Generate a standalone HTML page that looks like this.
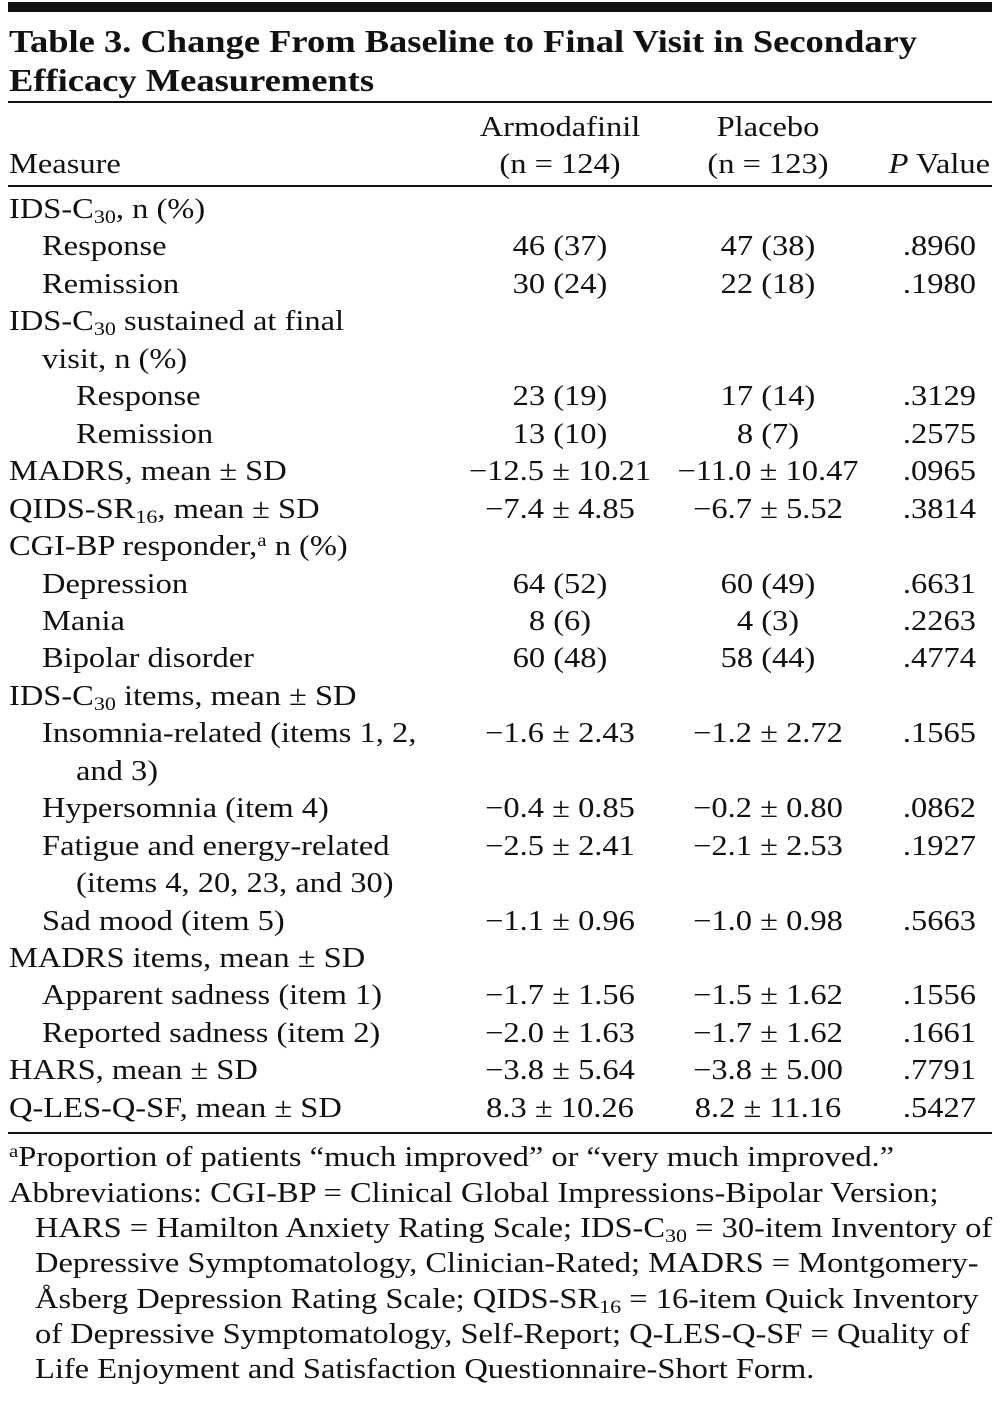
<!DOCTYPE html>
<html><head><meta charset="utf-8">
<style>
html,body{margin:0;padding:0;background:#fff;}
body{width:1004px;height:1403px;position:relative;overflow:hidden;font-family:"Liberation Serif",serif;color:#111;}
.t{position:absolute;white-space:nowrap;font-size:28px;line-height:38px;height:38px;transform:scaleX(1.16);transform-origin:0 50%;}
.c{transform:translateX(-50%) scaleX(1.16);transform-origin:50% 50%;}
.r{transform:translateX(-100%) scaleX(1.16);transform-origin:100% 50%;}
.rule{position:absolute;left:8px;width:984px;background:#111;}
.title{position:absolute;left:9px;font-size:32px;font-weight:bold;line-height:40px;white-space:nowrap;transform:scaleX(1.14);transform-origin:0 50%;}
sub{font-size:19px;vertical-align:-5px;line-height:0;}
sup{font-size:18px;vertical-align:9px;line-height:0;}
</style></head><body>
<div class="rule" style="top:2px;height:10px"></div>
<div class="title" style="top:21px">Table 3. Change From Baseline to Final Visit in Secondary</div>
<div class="title" style="top:60px">Efficacy Measurements</div>
<div class="rule" style="top:101px;height:2px"></div>

<div class="t" style="left:9px;top:146px">Measure</div>
<div class="t c" style="left:560px;top:109px">Armodafinil</div>
<div class="t c" style="left:560px;top:146px">(n = 124)</div>
<div class="t c" style="left:768px;top:109px">Placebo</div>
<div class="t c" style="left:768px;top:146px">(n = 123)</div>
<div class="t r" style="left:990px;top:146px"><i>P</i> Value</div>
<div class="rule" style="top:185px;height:2px"></div>

<div id="rows"></div>

<div class="rule" style="top:1132px;height:2px"></div>

<div class="t" style="left:9px;top:1139px"><sup>a</sup>Proportion of patients “much improved” or “very much improved.”</div>
<div class="t" style="left:9px;top:1175px">Abbreviations: CGI-BP = Clinical Global Impressions-Bipolar Version;</div>
<div class="t" style="left:35px;top:1210px">HARS = Hamilton Anxiety Rating Scale; IDS-C<sub>30</sub> = 30-item Inventory of</div>
<div class="t" style="left:35px;top:1245px">Depressive Symptomatology, Clinician-Rated; MADRS = Montgomery-</div>
<div class="t" style="left:35px;top:1281px">Åsberg Depression Rating Scale; QIDS-SR<sub>16</sub> = 16-item Quick Inventory</div>
<div class="t" style="left:35px;top:1316px">of Depressive Symptomatology, Self-Report; Q-LES-Q-SF = Quality of</div>
<div class="t" style="left:35px;top:1351px">Life Enjoyment and Satisfaction Questionnaire-Short Form.</div>

<script>
const labels = [
 ["IDS-C<sub>30</sub>, n (%)",0],["Response",1],["Remission",1],
 ["IDS-C<sub>30</sub> sustained at final",0],["visit, n (%)",1],["Response",2],["Remission",2],
 ["MADRS, mean ± SD",0],["QIDS-SR<sub>16</sub>, mean ± SD",0],["CGI-BP responder,<sup>a</sup> n (%)",0],
 ["Depression",1],["Mania",1],["Bipolar disorder",1],["IDS-C<sub>30</sub> items, mean ± SD",0],
 ["Insomnia-related (items 1, 2,",1],["and 3)",2],["Hypersomnia (item 4)",1],
 ["Fatigue and energy-related",1],["(items 4, 20, 23, and 30)",2],["Sad mood (item 5)",1],
 ["MADRS items, mean ± SD",0],["Apparent sadness (item 1)",1],["Reported sadness (item 2)",1],
 ["HARS, mean ± SD",0],["Q-LES-Q-SF, mean ± SD",0]
];
const armo = ["","46 (37)","30 (24)","","","23 (19)","13 (10)","−12.5 ± 10.21","−7.4 ± 4.85","","64 (52)","8 (6)","60 (48)","","−1.6 ± 2.43","","−0.4 ± 0.85","−2.5 ± 2.41","","−1.1 ± 0.96","","−1.7 ± 1.56","−2.0 ± 1.63","−3.8 ± 5.64","8.3 ± 10.26"];
const plac = ["","47 (38)","22 (18)","","","17 (14)","8 (7)","−11.0 ± 10.47","−6.7 ± 5.52","","60 (49)","4 (3)","58 (44)","","−1.2 ± 2.72","","−0.2 ± 0.80","−2.1 ± 2.53","","−1.0 ± 0.98","","−1.5 ± 1.62","−1.7 ± 1.62","−3.8 ± 5.00","8.2 ± 11.16"];
const pvals = ["",".8960",".1980","","",".3129",".2575",".0965",".3814","",".6631",".2263",".4774","",".1565","",".0862",".1927","",".5663","",".1556",".1661",".7791",".5427"];
const root=document.getElementById('rows');
const indent=[9,42,76];
labels.forEach((l,i)=>{
  const top=191+i*37.45;
  const a=document.createElement('div');a.className='t';a.style.left=indent[l[1]]+'px';a.style.top=top+'px';a.innerHTML=l[0];
  
  
  root.appendChild(a);
  if(armo[i]){const d=document.createElement('div');d.className='t c';d.style.left='560px';d.style.top=top+'px';d.textContent=armo[i];
    
    
    root.appendChild(d);}
  if(plac[i]){const d=document.createElement('div');d.className='t c';d.style.left='768px';d.style.top=top+'px';d.textContent=plac[i];
    
    
    root.appendChild(d);}
  if(pvals[i]){const d=document.createElement('div');d.className='t r';d.style.left='976px';d.style.top=top+'px';d.textContent=pvals[i];
    
    
    root.appendChild(d);}
});
</script>
</body></html>
